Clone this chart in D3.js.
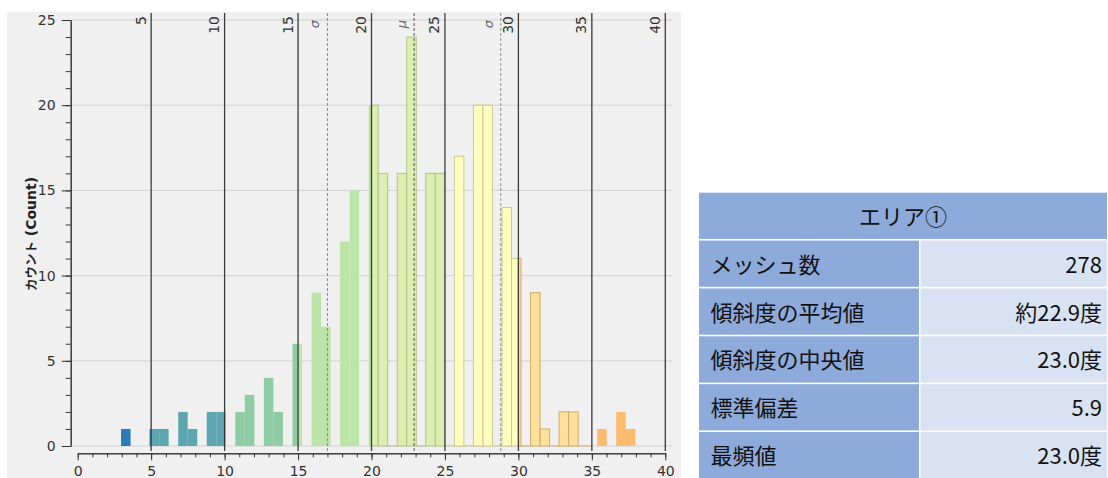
<!DOCTYPE html>
<html>
<head>
<meta charset="utf-8">
<script src="https://cdn.jsdelivr.net/npm/d3@7"></script>
<style>
body { margin: 0; background: #fff; }
</style>
</head>
<body>
<div id="chart"></div>
<script>
const width = 1108
const height = 478

// histogram bins (54 bins from binStart, width binWidth)
const binStart = 2.95
const binWidth = 0.6483
const counts = [1, 0, 0, 1, 1, 0, 2, 1, 0, 2,
                2, 0, 2, 3, 0, 4, 2, 0, 6, 0,
                9, 7, 0, 12, 15, 0, 20, 16, 0, 16,
                24, 0, 16, 16, 0, 17, 0, 20, 20, 0,
                14, 11, 0, 9, 1, 0, 2, 2, 0, 0,
                1, 0, 2, 1]

// colour bands along the x axis
const bandEdges = [0, 5, 10, 15, 20, 25, 30, 35, 40]
const bandFills = ["#2b7bba", "#5da6b0", "#8fcba4", "#bde4a8", "#dcefb1", "#ffffbf", "#fee09a", "#fdbb6f"]
const bandStrokes = [null, null, null, null, "#b3c28a", "#cbc98f", "#cfac6a", null]

const refLines = [5, 10, 15, 20, 25, 30, 35, 40]
const meanValue = 22.9
const sdValue = 5.9

const yTicks = [0, 5, 10, 15, 20, 25]
const xTicks = [0, 5, 10, 15, 20, 25, 30, 35, 40]

const tableTitle = "エリア①"
const statLabels = ["メッシュ数", "傾斜度の平均値", "傾斜度の中央値", "標準偏差", "最頻値"]
const statValues = ["278", "約22.9度", "23.0度", "5.9", "23.0度"]

const svg = d3.select("#chart").append("svg")
    .attr("width", width)
    .attr("height", height)

const x = d3.scaleLinear().domain([0, 40]).range([77.7, 665.3])
const y = d3.scaleLinear().domain([0, 25]).range([446, 20])

// panel background
svg.append("rect")
    .attr("x", 7).attr("y", 12)
    .attr("width", 674).attr("height", 466)
    .attr("fill", "#f0f0f0")

// horizontal grid
svg.append("g").selectAll("line")
    .data(yTicks)
    .join("line")
    .attr("x1", 71).attr("x2", 672)
    .attr("y1", d => y(d)).attr("y2", d => y(d))
    .attr("stroke", "#d2d2d2")
    .attr("stroke-width", 1)

// split every bin by colour band
const segs = []
counts.forEach((c, i) => {
    const x0 = binStart + i * binWidth
    const x1 = x0 + binWidth
    for (let b = 0; b < bandFills.length; b++) {
        const lo = Math.max(x0, bandEdges[b])
        const hi = Math.min(x1, bandEdges[b + 1])
        if (hi > lo) segs.push({lo, hi, c, fill: bandFills[b], stroke: bandStrokes[b]})
    }
})

const bars = svg.append("g").attr("id", "bars")
bars.selectAll("rect")
    .data(segs.filter(d => d.c > 0))
    .join("rect")
    .attr("x", d => x(d.lo))
    .attr("width", d => x(d.hi) - x(d.lo))
    .attr("y", d => y(d.c))
    .attr("height", d => y(0) - y(d.c))
    .attr("fill", d => d.fill)
    .attr("stroke", d => d.stroke || "none")
    .attr("stroke-width", 1)

// empty bins in outlined bands still show their bottom edge
bars.selectAll("line")
    .data(segs.filter(d => d.c === 0 && d.stroke))
    .join("line")
    .attr("x1", d => x(d.lo)).attr("x2", d => x(d.hi))
    .attr("y1", y(0)).attr("y2", y(0))
    .attr("stroke", d => d.stroke)

// reference lines
const refs = svg.append("g")
refs.selectAll("line")
    .data(refLines)
    .join("line")
    .attr("x1", d => x(d)).attr("x2", d => x(d))
    .attr("y1", 13).attr("y2", 451)
    .attr("stroke", "#3a3a3a")
    .attr("stroke-width", 1.3)
refs.selectAll("text")
    .data(refLines)
    .join("text")
    .attr("transform", d => `translate(${x(d) - 5.5},16) rotate(-90)`)
    .attr("text-anchor", "end")
    .attr("font-family", "DejaVu Sans")
    .attr("font-size", 14)
    .attr("fill", "#333")
    .text(d => d)

// mean and sd lines
const stats = [
    {v: meanValue - sdValue, label: "σ", color: "#8a8a8a"},
    {v: meanValue, label: "μ", color: "#505050"},
    {v: meanValue + sdValue, label: "σ", color: "#8a8a8a"}
]
const st = svg.append("g")
st.selectAll("line")
    .data(stats)
    .join("line")
    .attr("x1", d => x(d.v)).attr("x2", d => x(d.v))
    .attr("y1", 13).attr("y2", 451)
    .attr("stroke", d => d.color)
    .attr("stroke-width", 1)
    .attr("stroke-dasharray", "3,2")
st.selectAll("text")
    .data(stats)
    .join("text")
    .attr("transform", d => `translate(${x(d.v) - 8},20) rotate(-90)`)
    .attr("text-anchor", "end")
    .attr("font-family", "DejaVu Sans")
    .attr("font-style", "italic")
    .attr("font-size", 13)
    .attr("fill", "#666")
    .text(d => d.label)

// axes
function styleAxis(g) {
    g.selectAll("path, line").attr("stroke", "#333")
    g.selectAll("text")
        .attr("font-family", "DejaVu Sans")
        .attr("font-size", 14)
        .attr("fill", "#333")
}

svg.append("g")
    .attr("transform", "translate(70.7,0)")
    .call(d3.axisLeft(y).tickValues(d3.range(0, 26, 1)).tickSize(5).tickSizeOuter(0).tickFormat(""))
    .call(styleAxis)
svg.append("g")
    .attr("transform", "translate(70.7,0)")
    .call(d3.axisLeft(y).tickValues(yTicks).tickSize(9).tickSizeOuter(0).tickPadding(6))
    .call(styleAxis)

svg.append("g")
    .attr("transform", "translate(0,453.3)")
    .call(d3.axisBottom(x).tickValues(d3.range(0, 41, 1)).tickSize(4).tickSizeOuter(0).tickFormat(""))
    .call(styleAxis)
svg.append("g")
    .attr("transform", "translate(0,453.3)")
    .call(d3.axisBottom(x).tickValues(xTicks).tickSize(7).tickSizeOuter(0).tickPadding(6))
    .call(styleAxis)

// y title
const yt = svg.append("text")
    .attr("transform", "translate(35.5,234) rotate(-90)")
    .attr("text-anchor", "middle")
    .attr("font-weight", "bold")
    .attr("fill", "#222")
yt.append("tspan")
    .attr("font-family", "Noto Sans CJK JP")
    .attr("font-size", 12.5)
    .text("カウント")
yt.append("tspan")
    .attr("font-family", "DejaVu Sans")
    .attr("font-size", 14)
    .text(" (Count)")

// stats table
const tx0 = 699, tx1 = 1107, tSplit = 919
const rows = d3.scaleBand()
    .domain(d3.range(statLabels.length + 1))
    .range([192.7, 478.3])
    .paddingInner(0.034)

const table = svg.append("g")
    .attr("font-family", "Noto Sans CJK JP")
    .attr("font-size", 22)

table.append("rect")
    .attr("x", tx0).attr("y", rows(0))
    .attr("width", tx1 - tx0).attr("height", rows.bandwidth())
    .attr("fill", "#8eaadb")
table.append("text")
    .attr("x", (tx0 + tx1) / 2)
    .attr("y", rows(0) + rows.bandwidth() / 2 - 1)
    .attr("text-anchor", "middle")
    .attr("dominant-baseline", "central")
    .attr("fill", "#111")
    .text(tableTitle)

const row = table.selectAll(".row")
    .data(statLabels)
    .join("g")
    .attr("class", "row")
    .attr("transform", (d, i) => `translate(0,${rows(i + 1)})`)

row.append("rect")
    .attr("x", tx0).attr("width", tSplit - tx0)
    .attr("height", rows.bandwidth())
    .attr("fill", "#8eaadb")
row.append("rect")
    .attr("x", tSplit + 1.5).attr("width", tx1 - tSplit - 1.5)
    .attr("height", rows.bandwidth())
    .attr("fill", "#d9e2f3")
row.append("text")
    .attr("x", tx0 + 11.5)
    .attr("y", rows.bandwidth() / 2 - 1)
    .attr("dominant-baseline", "central")
    .attr("fill", "#111")
    .text(d => d)
row.append("text")
    .attr("x", tx1 - 5)
    .attr("y", rows.bandwidth() / 2 - 1)
    .attr("text-anchor", "end")
    .attr("dominant-baseline", "central")
    .attr("fill", "#111")
    .text((d, i) => statValues[i])
</script>
</body>
</html>
